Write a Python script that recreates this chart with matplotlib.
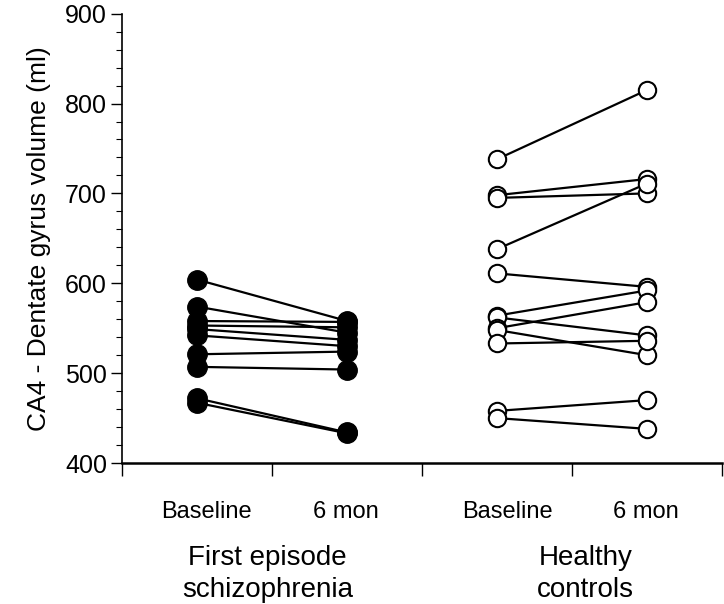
import matplotlib
matplotlib.use("Agg")
import matplotlib.pyplot as plt
from matplotlib.ticker import MultipleLocator

plt.rcParams['font.family'] = ['Liberation Sans', 'DejaVu Sans']

# first episode schizophrenia, baseline -> 6 months
fes_base = [604, 574, 558, 553, 549, 542, 521, 507, 472, 467]
fes_6mon = [558, 545, 557, 551, 537, 530, 524, 504, 434, 433]

# healthy controls, baseline -> 6 months
hc_base = [738, 698, 695, 638, 611, 564, 562, 550, 548, 533, 458, 450]
hc_6mon = [815, 716, 700, 711, 596, 592, 542, 579, 520, 536, 470, 438]

time_labels = ["Baseline", "6 mon", "Baseline", "6 mon"]
group_labels = ["First episode\nschizophrenia", "Healthy\ncontrols"]

fig = plt.figure(figsize=(7.24, 6.04), dpi=100)
ax = fig.add_axes([0.169, 0.2334, 0.828, 0.744])

for b, m in zip(fes_base, fes_6mon):
    ax.plot([0.5, 1.5], [b, m], color='black', lw=1.6, zorder=2)
ax.plot([0.5] * len(fes_base), fes_base, 'o', color='black', ms=14, zorder=3, clip_on=False)
ax.plot([1.5] * len(fes_6mon), fes_6mon, 'o', color='black', ms=14, zorder=3, clip_on=False)

for b, m in zip(hc_base, hc_6mon):
    ax.plot([2.5, 3.5], [b, m], color='black', lw=1.6, zorder=2)
ax.plot([2.5] * len(hc_base), hc_base, 'o', mfc='white', mec='black', mew=1.5, ms=12.5, zorder=3, clip_on=False)
ax.plot([3.5] * len(hc_6mon), hc_6mon, 'o', mfc='white', mec='black', mew=1.5, ms=12.5, zorder=3, clip_on=False)

ax.set_xlim(0, 4)
ax.set_ylim(400, 900)
ax.set_xticks([0, 1, 2, 3, 4])
ax.set_xticklabels([])
ax.yaxis.set_major_locator(MultipleLocator(100))
ax.yaxis.set_minor_locator(MultipleLocator(20))
ax.tick_params(axis='y', which='major', length=8, width=1, labelsize=18, pad=3)
ax.tick_params(axis='y', which='minor', length=4, width=0.8)
ax.tick_params(axis='x', which='major', length=9, width=1)
ax.spines['top'].set_visible(False)
ax.spines['right'].set_visible(False)
ax.spines['left'].set_linewidth(1.2)
ax.spines['bottom'].set_linewidth(1.8)

ax.set_ylabel("CA4 - Dentate gyrus volume (ml)", fontsize=19, labelpad=10)

for x, lab in zip([0.56, 1.49, 2.57, 3.49], time_labels):
    ax.text(x, -0.109, lab, transform=ax.get_xaxis_transform(), ha='center', va='center', fontsize=17)
for x, lab in zip([0.97, 3.09], group_labels):
    ax.text(x, -0.246, lab, transform=ax.get_xaxis_transform(), ha='center', va='center',
            fontsize=20, linespacing=1.3)

fig.savefig("out.png", dpi=100)
